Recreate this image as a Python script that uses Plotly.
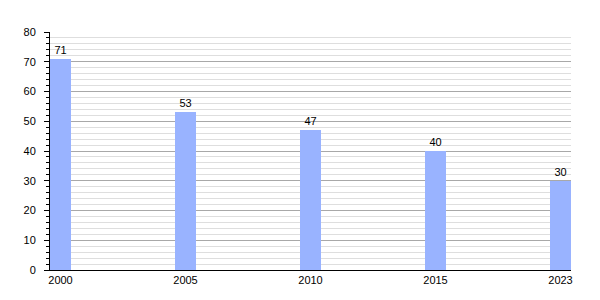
import plotly.graph_objects as go

years = ["2000", "2005", "2010", "2015", "2023"]
values = [71, 53, 47, 40, 30]

x_pos = list(range(len(years)))

fig = go.Figure()
fig.add_trace(go.Bar(
    x=x_pos, y=values, width=0.168,
    marker=dict(color="#99B3FF", line=dict(width=0)),
    text=[str(v) for v in values], textposition="outside",
    textfont=dict(family="Liberation Sans, Arial, sans-serif", size=11, color="black"),
    cliponaxis=False,
))
fig.update_layout(
    width=600, height=300,
    margin=dict(l=50, r=29, t=32, b=30),
    plot_bgcolor="white", paper_bgcolor="white",
    showlegend=False,
    font=dict(family="Liberation Sans, Arial, sans-serif", size=11, color="black"),
    bargap=0,
)
fig.update_xaxes(
    tickmode="array", tickvals=x_pos, ticktext=years,
    range=[-0.084, 4.084], showgrid=False, zeroline=False,
    showline=True, linecolor="black", linewidth=1, ticks="",
    ticklabelstandoff=0,
)
fig.update_yaxes(
    range=[0, 80], dtick=10, tick0=0,
    showgrid=True, gridcolor="#a8a8a8", gridwidth=1,
    zeroline=False, showline=True, linecolor="black", linewidth=1,
    ticks="outside", ticklen=5, tickcolor="black",
    minor=dict(dtick=2, showgrid=True, gridcolor="#dedede", gridwidth=1,
               ticks="outside", ticklen=3, tickcolor="black"),
    ticklabelstandoff=6,
)
fig.write_html("out.html")
